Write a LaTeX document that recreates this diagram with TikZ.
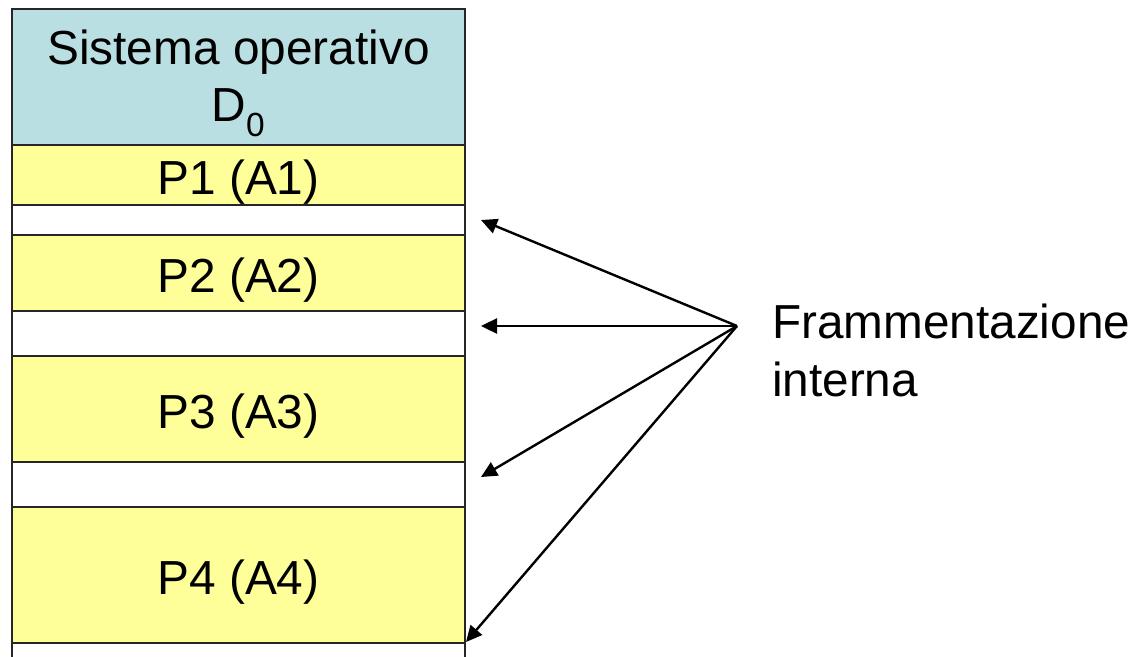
\documentclass[tikz,border=0pt]{standalone}
\usepackage{fontspec}
\setmainfont{Liberation Sans}
\usetikzlibrary{arrows.meta}
\definecolor{osblue}{RGB}{185,223,226}
\definecolor{procyellow}{RGB}{255,255,153}
\tikzset{
  x=1pt,y=-1pt,
  cell/.style={draw=black!85,line width=2pt,anchor=north west,inner sep=0pt,outer sep=0pt,minimum width=453pt,align=center,font=\fontsize{47.8}{58}\selectfont},
  proc/.style={cell,fill=procyellow},
  gap/.style={cell,fill=white},
  pointer/.style={draw=black,line width=2.4pt,-{Triangle[length=16pt,width=15pt]}}
}
\newcommand{\cellat}[5]{\node[#1,minimum height=#4pt] (#2) at (12,#3) {#5};}
\newcommand{\lowered}[1]{\raisebox{-7.2pt}[\height][\depth]{#1}}
\begin{document}
\begin{tikzpicture}
\useasboundingbox (0,0) rectangle (1134,656);
\clip (0,0) rectangle (1134,656);
\cellat{cell,fill=osblue}{os}{9}{136}{\lowered{Sistema operativo}\\\raisebox{-6pt}[\height][\depth]{D\textsubscript{0}}}
\cellat{proc}{p1}{145}{60}{\lowered{P1 (A1)}}
\cellat{gap}{g1}{205}{30}{}
\cellat{proc}{p2}{235}{76}{\lowered{P2 (A2)}}
\cellat{gap}{g2}{311}{45}{}
\cellat{proc}{p3}{356}{106}{\lowered{P3 (A3)}}
\cellat{gap}{g3}{462}{45}{}
\cellat{proc}{p4}{507}{136}{\lowered{P4 (A4)}}
\cellat{gap}{g4}{643}{40}{}
\node[anchor=north west,inner sep=0pt,align=left,font=\fontsize{47.7}{58}\selectfont] (label) at (772,304) {Frammentazione\\interna};
\coordinate (hub) at (737,326);
\coordinate (t1) at (481,220);
\coordinate (t2) at (481,326);
\coordinate (t3) at (481,477);
\coordinate (t4) at (466,642);
\draw[pointer] (hub) -- (t1);
\draw[pointer] (hub) -- (t2);
\draw[pointer] (hub) -- (t3);
\draw[pointer] (hub) -- (t4);
\end{tikzpicture}
\end{document}
